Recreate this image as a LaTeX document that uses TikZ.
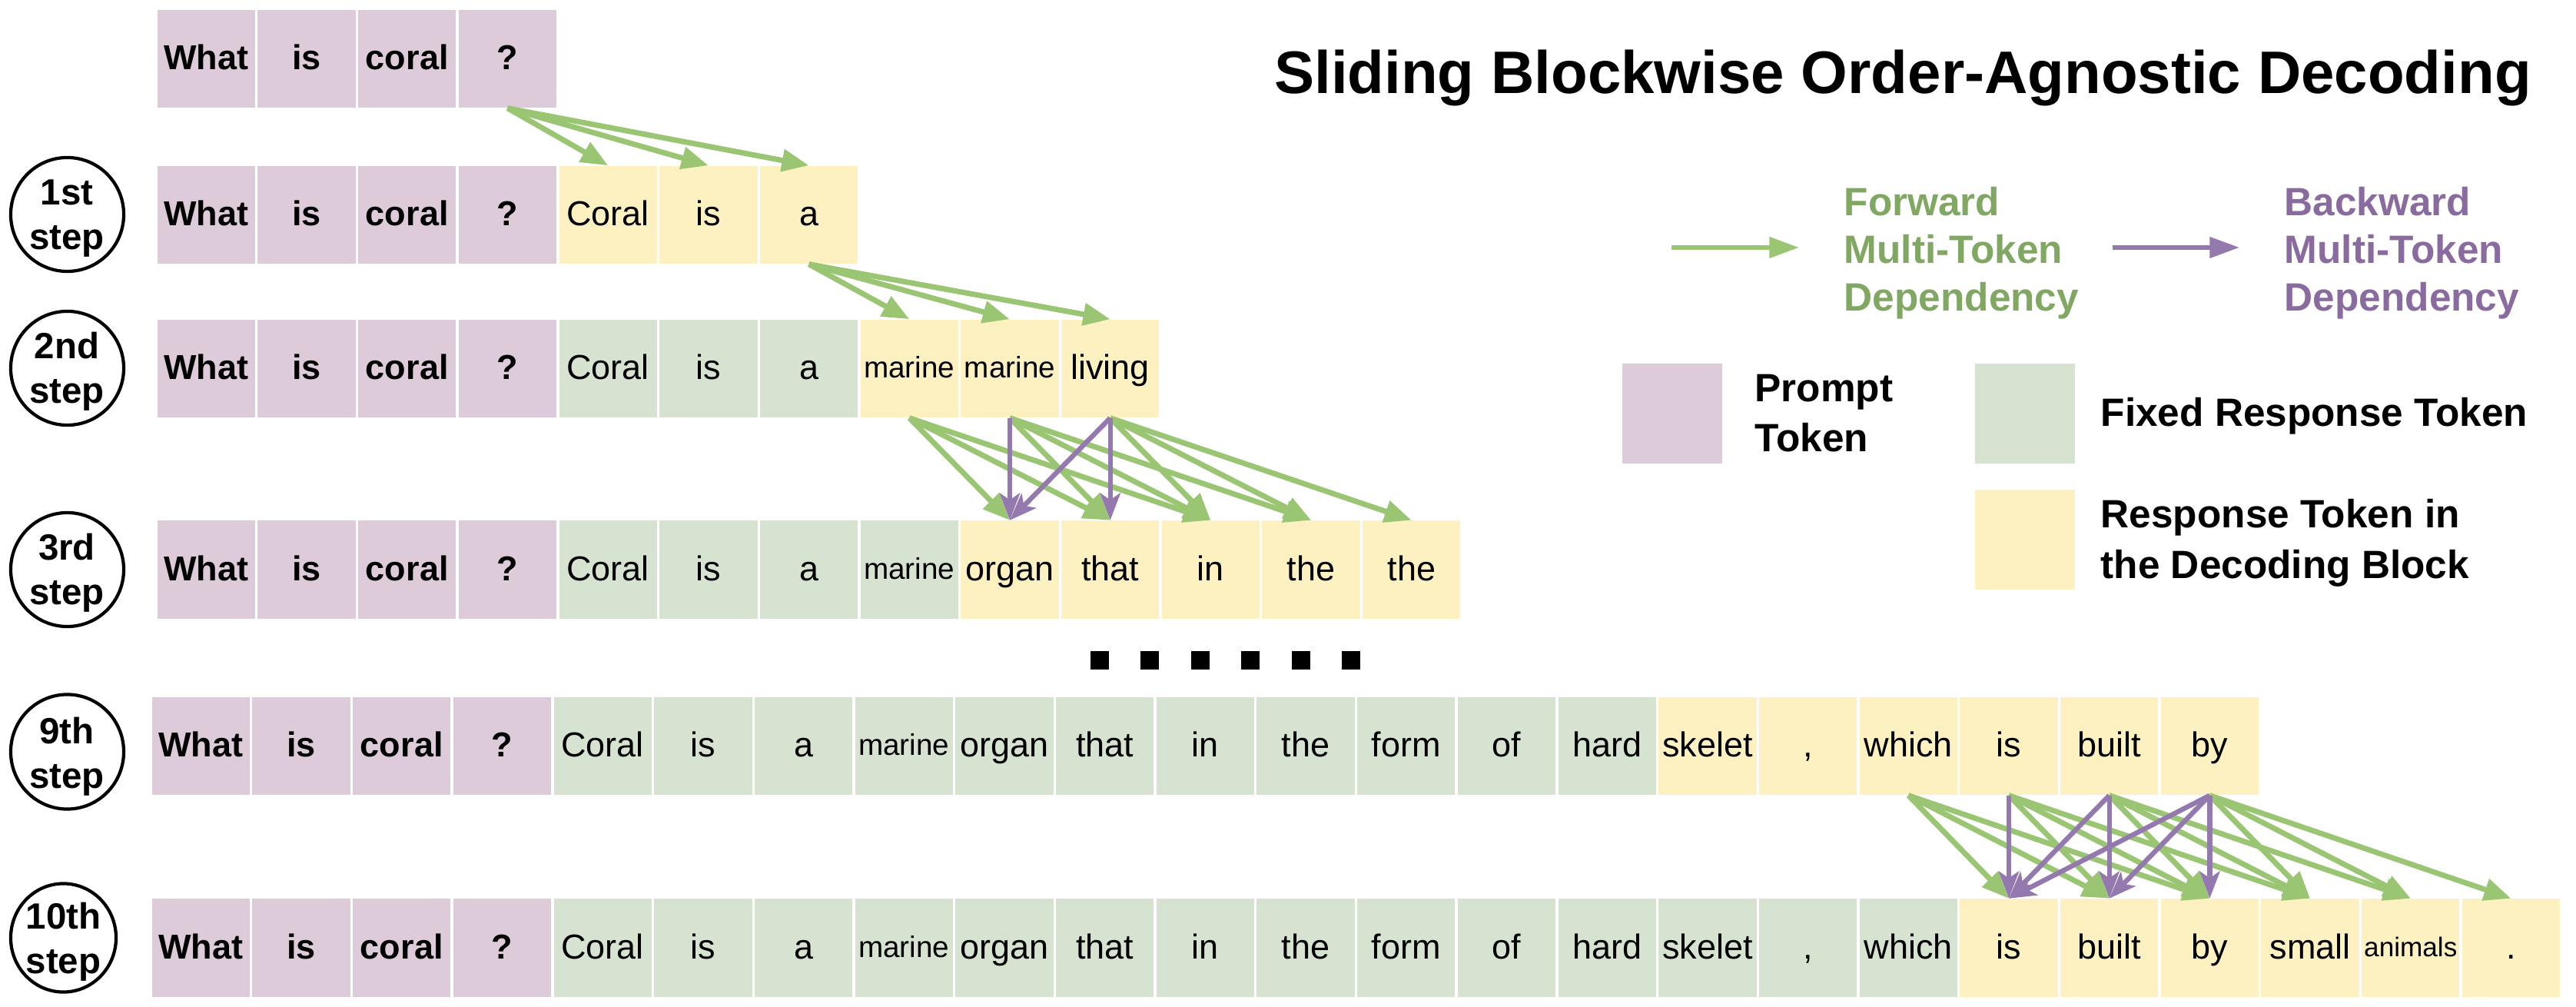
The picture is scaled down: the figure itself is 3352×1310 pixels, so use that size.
\documentclass[tikz,border=0pt]{standalone}
\usepackage{fontspec}
\setmainfont{Liberation Sans}
\usetikzlibrary{arrows.meta,shapes.geometric}
\definecolor{cprompt}{HTML}{DDCBD9}
\definecolor{cfixed}{HTML}{D5E3D0}
\definecolor{cblock}{HTML}{FDF0C1}
\definecolor{carrowg}{HTML}{9AC674}
\definecolor{carrowp}{HTML}{9479AE}
\definecolor{ctextg}{HTML}{80A862}
\definecolor{ctextp}{HTML}{8A6B9F}
\newcommand\comma{,}
\newcommand\tokrow[4]{%
  \foreach \t/\s [count=\i] in {#4} {
    \node[\s] (#1c\i) at ({#2+130.7*(\i-0.5)}, #3) {\t};
  }%
}
\begin{document}
\begin{tikzpicture}[x=0.01cm,y=-0.01cm,
  cell/.style={rectangle, inner sep=0pt, minimum width=1.272cm, minimum height=1.27cm,
    text height=10pt, text depth=2pt, font=\fontsize{12.8}{15}\selectfont},
  P/.style={cell, fill=cprompt, font=\fontsize{12.8}{15}\selectfont\bfseries},
  F/.style={cell, fill=cfixed},
  Y/.style={cell, fill=cblock},
  Fs/.style={F, font=\fontsize{11}{13}\selectfont, text height=9pt},
  Ys/.style={Y, font=\fontsize{11}{13}\selectfont, text height=9pt},
  Yxs/.style={Y, font=\fontsize{10}{12}\selectfont, text height=8.6pt},
  fwd/.style={draw=carrowg, line width=2pt, -{Triangle[length=10pt,width=8pt]}},
  bwd/.style={draw=carrowp, line width=1.8pt, -{Stealth[length=10pt,width=7.5pt,inset=2.5pt]}},
  lfwd/.style={draw=carrowg, line width=1.7pt, -{Triangle[length=11pt,width=7.5pt]}},
  lbwd/.style={draw=carrowp, line width=1.7pt, -{Triangle[length=11pt,width=7.5pt]}},
  stepc/.style={ellipse, draw=black, line width=1.2pt, fill=white, inner sep=0pt},
  steptxt/.style={inner sep=0pt, font=\fontsize{13.5}{16}\selectfont\bfseries},
  lgt/.style={inner sep=0pt, font=\fontsize{14.6}{17.6}\selectfont\bfseries},
  swatch/.style={rectangle, inner sep=0pt, minimum width=1.3cm, minimum height=1.3cm},
  dotsq/.style={rectangle, fill=black, inner sep=0pt, minimum width=0.24cm, minimum height=0.24cm}
]
\useasboundingbox[fill=white] (0,0) rectangle (3352,1310);

% title
\node[inner sep=0pt, font=\fontsize{22.2}{26}\selectfont\bfseries, anchor=base] (title) at (2476,122)
  {Sliding Blockwise Order-Agnostic Decoding};

% token rows
\tokrow{r0}{203}{76.5}{What/P, is/P, coral/P, ?/P}
\tokrow{r1}{203}{279.5}{What/P, is/P, coral/P, ?/P, Coral/Y, is/Y, a/Y}
\tokrow{r2}{203}{479.5}{What/P, is/P, coral/P, ?/P, Coral/F, is/F, a/F, marine/Ys, marine/Ys, living/Y}
\tokrow{r3}{203}{741}{What/P, is/P, coral/P, ?/P, Coral/F, is/F, a/F, marine/Fs, organ/Y, that/Y, in/Y, the/Y, the/Y}
\tokrow{r9}{196}{970.5}{What/P, is/P, coral/P, ?/P, Coral/F, is/F, a/F, marine/Fs, organ/F, that/F, in/F, the/F, form/F, of/F, hard/F, skelet/Y, \comma/Y, which/Y, is/Y, built/Y, by/Y}
\tokrow{r10}{196}{1233}{What/P, is/P, coral/P, ?/P, Coral/F, is/F, a/F, marine/Fs, organ/F, that/F, in/F, the/F, form/F, of/F, hard/F, skelet/F, \comma/F, which/F, is/Y, built/Y, by/Y, small/Y, animals/Yxs, ./Y}

% step labels
\node[stepc, minimum width=1.47cm, minimum height=1.48cm] (s1) at (87.5,279) {};
\node[steptxt, anchor=base] (s1a) at (87,267) {1st};
\node[steptxt, anchor=base] (s1b) at (87,325) {step};
\node[stepc, minimum width=1.47cm, minimum height=1.48cm] (s2) at (87.5,479) {};
\node[steptxt, anchor=base] (s2a) at (87,467) {2nd};
\node[steptxt, anchor=base] (s2b) at (87,525) {step};
\node[stepc, minimum width=1.47cm, minimum height=1.48cm] (s3) at (87.5,741) {};
\node[steptxt, anchor=base] (s3a) at (87,729) {3rd};
\node[steptxt, anchor=base] (s3b) at (87,787) {step};
\node[stepc, minimum width=1.47cm, minimum height=1.49cm] (s9) at (87.5,978) {};
\node[steptxt, anchor=base] (s9a) at (87,967) {9th};
\node[steptxt, anchor=base] (s9b) at (87,1025) {step};
\node[stepc, minimum width=1.37cm, minimum height=1.41cm] (s10) at (82.5,1220) {};
\node[steptxt, anchor=base] (s10a) at (82.5,1208) {10th};
\node[steptxt, anchor=base] (s10b) at (82.5,1266) {step};

% dots
\foreach \k in {0,...,5} {
  \node[dotsq] (dot\k) at ({1431+65.4*\k}, 859) {};
}

% arrows row 0 -> 1
\foreach \j in {5,6,7} { \draw[fwd] (r0c4.south) -- (r1c\j.north); }
% row 1 -> 2
\foreach \j in {8,9,10} { \draw[fwd] (r1c7.south) -- (r2c\j.north); }
% row 2 -> 3
\foreach \s/\j in {8/9, 8/10, 8/11, 9/10, 9/11, 9/12, 10/11, 10/12, 10/13} {
  \draw[fwd] (r2c\s.south) -- (r3c\j.north);
}
\foreach \s/\j in {9/9, 10/9, 10/10} {
  \draw[bwd] (r2c\s.south) -- (r3c\j.north);
}
% row 9 -> 10
\foreach \s/\j in {18/19, 18/20, 18/21, 19/20, 19/21, 19/22, 20/21, 20/22, 20/23, 21/22, 21/23, 21/24} {
  \draw[fwd] (r9c\s.south) -- (r10c\j.north);
}
\foreach \s/\j in {19/19, 20/19, 20/20, 21/19, 21/20, 21/21} {
  \draw[bwd] (r9c\s.south) -- (r10c\j.north);
}

% legend: arrows
\coordinate (lga) at (2175,322);
\coordinate (lgb) at (2341,322);
\draw[lfwd] (lga) -- (lgb);
\coordinate (lgc) at (2749,322);
\coordinate (lgd) at (2914,322);
\draw[lbwd] (lgc) -- (lgd);
\node[lgt, text=ctextg, anchor=base west] (fw1) at (2399,281) {Forward};
\node[lgt, text=ctextg, anchor=base west] (fw2) at (2399,343) {Multi-Token};
\node[lgt, text=ctextg, anchor=base west] (fw3) at (2399,405) {Dependency};
\node[lgt, text=ctextp, anchor=base west] (bw1) at (2972,281) {Backward};
\node[lgt, text=ctextp, anchor=base west] (bw2) at (2972,343) {Multi-Token};
\node[lgt, text=ctextp, anchor=base west] (bw3) at (2972,405) {Dependency};

% legend: swatches
\node[swatch, fill=cprompt] (swp) at (2176,538) {};
\node[lgt, anchor=base west] (lp1) at (2283,523) {Prompt};
\node[lgt, anchor=base west] (lp2) at (2283,588) {Token};
\node[swatch, fill=cfixed] (swf) at (2635,538) {};
\node[lgt, anchor=base west] (lf1) at (2733,555) {Fixed Response Token};
\node[swatch, fill=cblock] (swy) at (2635,702) {};
\node[lgt, anchor=base west] (ly1) at (2733,687) {Response Token in};
\node[lgt, anchor=base west] (ly2) at (2733,753) {the Decoding Block};
\end{tikzpicture}
\end{document}
